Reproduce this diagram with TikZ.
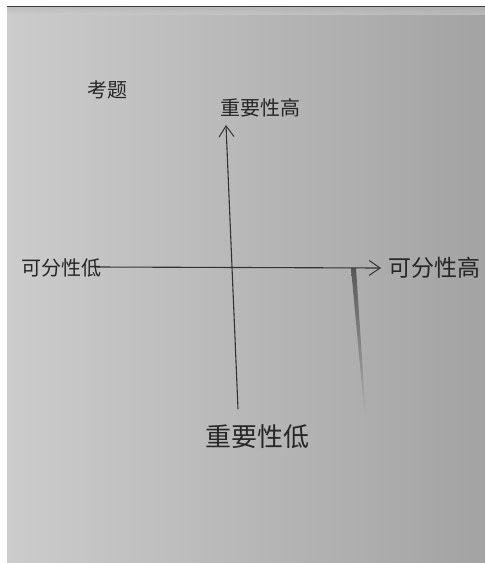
\documentclass[tikz,border=0pt]{standalone}
\usepackage{fontspec}
\newfontfamily\cjk{Noto Sans CJK SC}
\usetikzlibrary{arrows.meta}
\begin{document}
\begin{tikzpicture}[x=1pt,y=-1pt,
  pen/.style={draw=black!80,line width=1.1pt},
  axisarrow/.style={-{Straight Barb[length=11pt,width=15pt,line width=1pt]}},
  lbl/.style={font=\cjk\fontsize{20}{20}\selectfont,text=black!85,inner sep=0pt}]
\useasboundingbox (0,0) rectangle (485,563);
\fill[white] (0,0) rectangle (485,563);
\shade[left color=black!20,right color=black!36] (7,6) rectangle (485,563);
\shade[top color=black!30,bottom color=black!21,opacity=0.6] (7,6) rectangle (485,14);
\draw[black!75,line width=1pt] (7,6.5) -- (485,6.5);
% smudge
\shade[top color=black!80,bottom color=black!30,opacity=0.7] (351,268) -- (356,268) -- (366,420) -- (365,420) -- cycle;
% coordinates of axes
\coordinate (vb) at (238,409);
\coordinate (vt) at (226,125);
\coordinate (hl) at (97,267);
\coordinate (hr) at (381,268);
\draw[pen,axisarrow] (vb) -- (vt);
\draw[pen,axisarrow] (hl) -- (hr);
% labels
\node[lbl] (title) at (107,90) {考题};
\node[lbl] (top) at (260,108) {重要性高};
\node[lbl,font=\cjk\fontsize{26}{26}\selectfont] (bottom) at (257,437) {重要性低};
\node[lbl] (left) at (61,268) {可分性低};
\node[lbl,font=\cjk\fontsize{23}{23}\selectfont] (right) at (434,268) {可分性高};
\end{tikzpicture}
\end{document}
